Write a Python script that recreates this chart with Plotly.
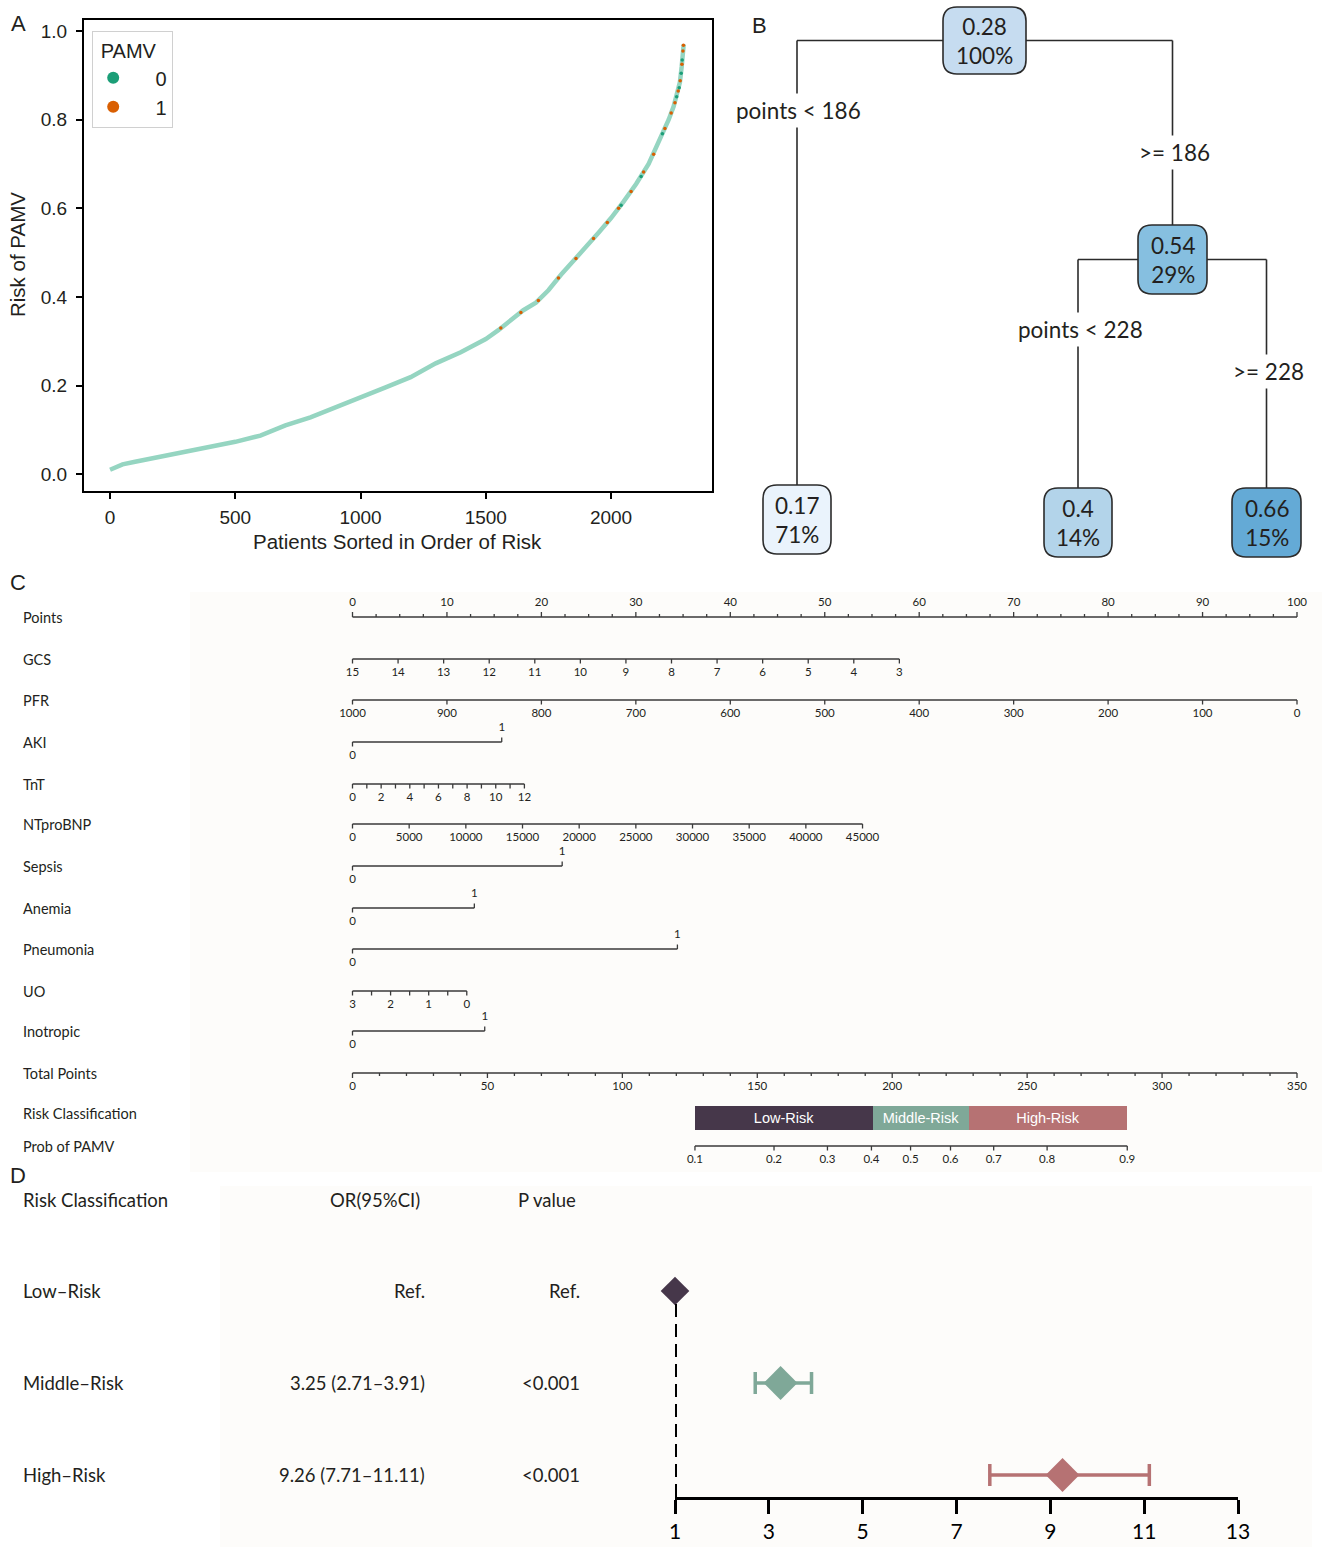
import plotly.graph_objects as go

W, H = 1322, 1547
ARIAL = "Liberation Sans, Arial, sans-serif"
SANS = "Lato, Open Sans, sans-serif"
INK = "#231f20"
NB = "\u00a0"


def px(p):
    return p / W


def py(p):
    return 1 - p / H


# ======================= DATA =======================
# ---- Panel A: sorted predicted risk ----
curve_idx = [0, 50, 100, 200, 300, 400, 500, 600, 700, 800, 900, 1000, 1100, 1200,
             1300, 1400, 1500, 1550, 1600, 1650, 1700, 1750, 1800, 1850, 1900, 1950,
             2000, 2050, 2100, 2150, 2200, 2230, 2250, 2265, 2275, 2282, 2286, 2290]
curve_risk = [0.010, 0.022, 0.028, 0.039, 0.050, 0.060, 0.073, 0.087, 0.110, 0.128,
              0.150, 0.173, 0.196, 0.219, 0.250, 0.275, 0.305, 0.325, 0.348, 0.370,
              0.387, 0.415, 0.450, 0.480, 0.513, 0.545, 0.578, 0.615, 0.655, 0.700,
              0.760, 0.800, 0.830, 0.860, 0.885, 0.920, 0.950, 0.970]
pamv0_idx = [2040, 2120, 2205, 2262, 2272, 2280, 2284]
pamv0_risk = [0.607, 0.672, 0.768, 0.852, 0.872, 0.905, 0.935]
pamv1_idx = [1560, 1640, 1710, 1790, 1860, 1930, 1985, 2030, 2080, 2130, 2170, 2215,
             2240, 2255, 2268, 2276, 2283, 2287, 2289]
pamv1_risk = [0.330, 0.365, 0.392, 0.443, 0.487, 0.532, 0.568, 0.600, 0.638, 0.682,
              0.722, 0.780, 0.815, 0.838, 0.865, 0.888, 0.925, 0.955, 0.968]
a_xticks = [0, 500, 1000, 1500, 2000]
a_yticks = [0.0, 0.2, 0.4, 0.6, 0.8, 1.0]

# ---- Panel B: decision tree ----
tree_value = ["0.28", "0.54", "0.17", "0.4", "0.66"]
tree_share = ["100%", "29%", "71%", "14%", "15%"]
tree_parent = [None, 0, 0, 1, 1]
tree_split = ["", ">= 186", "points < 186", "points < 228", ">= 228"]
tree_fill = ["#c6dcf0", "#86bfe0", "#eaf3fc", "#b3d4ea", "#64aad6"]

# ---- Panel C: nomogram (points each value earns) ----
points_labels = list(range(0, 101, 10))
gcs_labels = list(range(15, 2, -1))
gcs_points_span = [0, 57.9]
pfr_labels = list(range(1000, -1, -100))
pfr_points_span = [0, 100]
aki_points = [0, 15.8]
tnt_ticks = list(range(0, 13))
tnt_points_span = [0, 18.2]
ntprobnp_labels = list(range(0, 45001, 5000))
ntprobnp_points_span = [0, 54.0]
sepsis_points = [0, 22.2]
anemia_points = [0, 12.9]
pneumonia_points = [0, 34.4]
uo_ticks = [3, 2.5, 2, 1.5, 1, 0.5, 0]
uo_points_span = [0, 12.1]
inotropic_points = [0, 14.0]
total_ticks = list(range(0, 351, 10))
total_max = 350
prob_labels = [0.1, 0.2, 0.3, 0.4, 0.5, 0.6, 0.7, 0.8, 0.9]
prob_total_points = [126.9, 156.2, 176.0, 192.3, 206.8, 221.6, 237.6, 257.4, 287.1]
risk_names = ["Low-Risk", "Middle-Risk", "High-Risk"]
risk_edges_total = [127.1, 192.8, 228.6, 287.1]
risk_colors = ["#46374a", "#7fa898", "#b67273"]

# ---- Panel D: forest plot ----
forest_groups = ["Low\u2013Risk", "Middle\u2013Risk", "High\u2013Risk"]
or_est = [1.0, 3.25, 9.26]
or_lo = [1.0, 2.71, 7.71]
or_hi = [1.0, 3.91, 11.11]
or_text = ["Ref.", "3.25 (2.71\u20133.91)", "9.26 (7.71\u201311.11)"]
p_text = ["Ref.", "<0.001", "<0.001"]
forest_ticks = [1, 3, 5, 7, 9, 11, 13]

# ======================= FIGURE =======================
fig = go.Figure()
shapes = []
annotations = []


def ptext(text, x, y, size, family=SANS, xanchor="center", yanchor="middle", **kw):
    annotations.append(dict(text=text, xref="paper", yref="paper", x=px(x), y=py(y),
                            xanchor=xanchor, yanchor=yanchor, showarrow=False,
                            font=dict(family=family, size=size, color=INK), **kw))


# faint panel backgrounds
shapes.append(dict(type="rect", xref="paper", yref="paper", x0=px(190), x1=1,
                   y0=py(1172), y1=py(592), fillcolor="#fdfcfa", line_width=0, layer="below"))
shapes.append(dict(type="rect", xref="paper", yref="paper", x0=px(220), x1=px(1312),
                   y0=0, y1=py(1186), fillcolor="#fdfcfa", line_width=0, layer="below"))

# ---------- Panel A ----------
fig.add_trace(go.Scatter(x=curve_idx, y=curve_risk, mode="lines",
                         line=dict(color="#95d5c1", width=4.5), showlegend=False,
                         hoverinfo="skip", xaxis="x", yaxis="y"))
fig.add_trace(go.Scatter(x=pamv0_idx, y=pamv0_risk, mode="markers", name=NB * 4 + "0",
                         marker=dict(color="#1b9e77", size=3.5), xaxis="x", yaxis="y"))
fig.add_trace(go.Scatter(x=pamv1_idx, y=pamv1_risk, mode="markers", name=NB * 4 + "1",
                         marker=dict(color="#d95f02", size=3.5), xaxis="x", yaxis="y"))

ptext("Risk of PAMV", 18, 255, 20.5, ARIAL, textangle=-90)
ptext("Patients Sorted in Order of Risk", 397, 541, 20.5, ARIAL)

for letter, lx, ly in [("A", 18, 24), ("B", 760, 25), ("C", 18, 582), ("D", 18, 1175)]:
    ptext(letter, lx, ly, 22, ARIAL)

# ---------- Panel B ----------
tree_cx = [984.5, 1172.5, 797, 1078, 1266.5]
tree_cy = [40.5, 259.5, 519.5, 522.5, 522.5]
tree_w = [83, 69, 68, 68, 69]
tree_h = [67, 69, 69, 69, 69]


def rrect(x0, y0, x1, y1, r):
    return (f"M{x0 + r},{y0} L{x1 - r},{y0} Q{x1},{y0} {x1},{y0 + r} L{x1},{y1 - r} "
            f"Q{x1},{y1} {x1 - r},{y1} L{x0 + r},{y1} Q{x0},{y1} {x0},{y1 - r} "
            f"L{x0},{y0 + r} Q{x0},{y0} {x0 + r},{y0} Z")


for i, par in enumerate(tree_parent):
    if par is None:
        continue
    shapes.append(dict(type="line", xref="x2", yref="y2", x0=tree_cx[par], x1=tree_cx[i],
                       y0=tree_cy[par], y1=tree_cy[par], line=dict(color="#2b2b2b", width=1.6)))
    shapes.append(dict(type="line", xref="x2", yref="y2", x0=tree_cx[i], x1=tree_cx[i],
                       y0=tree_cy[par], y1=tree_cy[i] - tree_h[i] / 2,
                       line=dict(color="#2b2b2b", width=1.6)))
    is_left = tree_cx[i] < tree_cx[par]
    annotations.append(dict(text=tree_split[i], xref="x2", yref="y2", x=tree_cx[i] + 2,
                            y=tree_cy[par] + (70 if is_left else 112), showarrow=False,
                            xanchor="center", yanchor="middle", bgcolor="white", borderpad=3,
                            font=dict(family=SANS, size=22.5, color=INK)))
for i in range(len(tree_value)):
    x0, x1 = tree_cx[i] - tree_w[i] / 2, tree_cx[i] + tree_w[i] / 2
    y0, y1 = tree_cy[i] - tree_h[i] / 2, tree_cy[i] + tree_h[i] / 2
    shapes.append(dict(type="path", xref="x2", yref="y2", path=rrect(x0, y0, x1, y1, 14),
                       fillcolor=tree_fill[i], line=dict(color="#2b2b2b", width=1.6)))
    annotations.append(dict(text=f"{tree_value[i]}<br>{tree_share[i]}", xref="x2", yref="y2",
                            x=tree_cx[i], y=tree_cy[i], showarrow=False,
                            xanchor="center", yanchor="middle",
                            font=dict(family=SANS, size=22.5, color=INK)))

# ---------- Panel C : nomogram ----------
NOMO_X0, NOMO_PPP = 352.5, 9.445           # layout: pixel of 0 points / pixels per point
nomo_names = ["Points", "GCS", "PFR", "AKI", "TnT", "NTproBNP", "Sepsis", "Anemia",
              "Pneumonia", "UO", "Inotropic", "Total Points", "Risk Classification",
              "Prob of PAMV"]
nomo_y = [617, 659, 700, 742, 784, 824, 866, 908, 949, 991, 1031, 1073, 1113, 1146]
LAB_OFF = 14


def lin(values, v0, v1, span):
    return [span[0] + (v - v0) / (v1 - v0) * (span[1] - span[0]) for v in values]


def fmt(v):
    return str(int(v)) if float(v).is_integer() else str(v)


scales = []  # (row_y, positions, labels, sides, ticklens)
pts_all = [i * 2.5 for i in range(41)]
scales.append((nomo_y[0], pts_all,
               [fmt(p) if p in points_labels else "" for p in pts_all],
               ["up"] * len(pts_all), [5 if p in points_labels else 3 for p in pts_all]))
scales.append((nomo_y[1], lin(gcs_labels, 15, 3, gcs_points_span), [fmt(v) for v in gcs_labels],
               ["down"] * len(gcs_labels), [4.5] * len(gcs_labels)))
scales.append((nomo_y[2], lin(pfr_labels, 1000, 0, pfr_points_span), [fmt(v) for v in pfr_labels],
               ["down"] * len(pfr_labels), [4.5] * len(pfr_labels)))
for row, pts in [(3, aki_points), (6, sepsis_points), (7, anemia_points),
                 (8, pneumonia_points), (10, inotropic_points)]:
    scales.append((nomo_y[row], pts, ["0", "1"], ["down", "up"], [4.5, 4.5]))
scales.append((nomo_y[4], lin(tnt_ticks, 0, 12, tnt_points_span),
               [fmt(v) if v % 2 == 0 else "" for v in tnt_ticks],
               ["down"] * len(tnt_ticks), [4.5] * len(tnt_ticks)))
scales.append((nomo_y[5], lin(ntprobnp_labels, 0, 45000, ntprobnp_points_span),
               [fmt(v) for v in ntprobnp_labels], ["down"] * len(ntprobnp_labels),
               [4.5] * len(ntprobnp_labels)))
scales.append((nomo_y[9], lin(uo_ticks, 3, 0, uo_points_span),
               [fmt(v) if float(v).is_integer() else "" for v in uo_ticks],
               ["down"] * len(uo_ticks), [4.5] * len(uo_ticks)))
scales.append((nomo_y[11], [t * 100 / total_max for t in total_ticks],
               [fmt(t) if t % 50 == 0 else "" for t in total_ticks],
               ["down"] * len(total_ticks), [5 if t % 50 == 0 else 3 for t in total_ticks]))
scales.append((nomo_y[13], [t * 100 / total_max for t in prob_total_points],
               [fmt(p) for p in prob_labels], ["down"] * len(prob_labels),
               [4.5] * len(prob_labels)))

for ry, pos, labs, sides, tls in scales:
    lx = [min(pos), max(pos), None]
    ly = [ry, ry, None]
    tx, ty, tt = [], [], []
    for p, lab, sd, tl in zip(pos, labs, sides, tls):
        sgn = 1 if sd == "down" else -1
        lx += [p, p, None]
        ly += [ry, ry + sgn * tl, None]
        if lab:
            tx.append(p)
            ty.append(ry + sgn * LAB_OFF)
            tt.append(lab)
    fig.add_trace(go.Scatter(x=lx, y=ly, mode="lines", line=dict(color="#3a3a3a", width=1.3),
                             showlegend=False, hoverinfo="skip", xaxis="x3", yaxis="y3"))
    fig.add_trace(go.Scatter(x=tx, y=ty, mode="text", text=tt, cliponaxis=False,
                             textfont=dict(family=SANS, size=11.5, color=INK),
                             showlegend=False, hoverinfo="skip", xaxis="x3", yaxis="y3"))

risk_start = [risk_edges_total[i] * 100 / total_max for i in range(3)]
risk_width = [(risk_edges_total[i + 1] - risk_edges_total[i]) * 100 / total_max for i in range(3)]
fig.add_trace(go.Bar(orientation="h", y=[1118] * 3, x=risk_width, base=risk_start, width=24,
                     marker=dict(color=risk_colors, line_width=0), text=risk_names,
                     textposition="inside", insidetextanchor="middle", constraintext="none",
                     textfont=dict(family=ARIAL, size=14.5, color="white"),
                     showlegend=False, hoverinfo="skip", xaxis="x3", yaxis="y3"))

for name, ry in zip(nomo_names, nomo_y):
    annotations.append(dict(text=name, xref="paper", yref="y3", x=px(21), y=ry,
                            xanchor="left", yanchor="middle", showarrow=False,
                            font=dict(family=SANS, size=14.5, color=INK)))

# ---------- Panel D : forest plot ----------
row_val = [3, 2, 1]
for i in range(3):
    err = None
    if i > 0:
        err = dict(type="data", symmetric=False, array=[or_hi[i] - or_est[i]],
                   arrayminus=[or_est[i] - or_lo[i]], color=risk_colors[i],
                   thickness=3.5, width=11)
    fig.add_trace(go.Scatter(x=[or_est[i]], y=[row_val[i]], mode="markers", error_x=err,
                             marker=dict(symbol="diamond", size=22 if i == 0 else 26,
                                         color=risk_colors[i]),
                             cliponaxis=False, showlegend=False, hoverinfo="skip",
                             xaxis="x4", yaxis="y4"))
shapes.append(dict(type="line", xref="x4", yref="y4", x0=1, x1=1, y0=0.761, y1=row_val[0] - 0.12,
                   line=dict(color="black", width=4, dash="13px,7px")))

ptext("Risk Classification", 21, 1200, 18.5, xanchor="left")
ptext("OR(95%CI)", 375, 1200, 18.5)
ptext("P value", 547, 1200, 18.5)
for i in range(3):
    for txt, xx, xa in [(forest_groups[i], 21, "left"), (or_text[i], 427, "right"),
                        (p_text[i], 582, "right")]:
        annotations.append(dict(text=txt, xref="paper", yref="y4", x=px(xx), y=row_val[i],
                                xanchor=xa, yanchor="middle", showarrow=False,
                                font=dict(family=SANS, size=18.5, color=INK)))

# ======================= LAYOUT =======================
hidden = dict(visible=False, showgrid=False, zeroline=False, fixedrange=True, automargin=False)
fig.update_layout(
    width=W, height=H, margin=dict(l=0, r=0, t=0, b=0, pad=0, autoexpand=False),
    paper_bgcolor="white", plot_bgcolor="rgba(0,0,0,0)",
    xaxis=dict(domain=[px(84), px(712)], range=[-104, 2403], anchor="y", automargin=False,
               tickvals=a_xticks, ticks="outside", ticklen=6, tickwidth=1.5, tickcolor="black",
               showline=True, mirror=True, linecolor="black", linewidth=2, showgrid=False,
               zeroline=False, ticklabelstandoff=2,
               tickfont=dict(family=ARIAL, size=19, color=INK)),
    yaxis=dict(domain=[py(491), py(20)], range=[-0.038, 1.025], anchor="x", automargin=False,
               tickvals=a_yticks, tickformat=".1f", ticks="outside", ticklen=6, tickwidth=1.5,
               tickcolor="black", showline=True, mirror=True, linecolor="black", linewidth=2,
               showgrid=False, zeroline=False, ticklabelstandoff=5,
               tickfont=dict(family=ARIAL, size=19, color=INK)),
    xaxis2=dict(domain=[px(730), 1], range=[730, 1322], anchor="y2", **hidden),
    yaxis2=dict(domain=[py(570), 1], range=[570, 0], anchor="x2", **hidden),
    xaxis3=dict(domain=[0, 1], range=[(0 - NOMO_X0) / NOMO_PPP, (W - NOMO_X0) / NOMO_PPP],
                anchor="y3", **hidden),
    yaxis3=dict(domain=[py(1175), py(588)], range=[1175, 588], anchor="x3", **hidden),
    xaxis4=dict(domain=[px(675), px(1238)], range=[1, 13], anchor="y4", tickvals=forest_ticks,
                ticks="outside", ticklen=14, tickwidth=2.5, tickcolor="black", showline=True,
                linecolor="black", linewidth=2.5, showgrid=False, zeroline=False, automargin=False,
                ticklabelstandoff=0, tickfont=dict(family=SANS, size=21, color="black"),
                fixedrange=True),
    yaxis4=dict(domain=[py(1497), py(1240)], range=[0.761, 3.554], anchor="x4", **hidden),
    legend=dict(title=dict(text=NB + "PAMV", font=dict(family=ARIAL, size=20, color=INK)),
                x=px(92), y=py(31), xanchor="left", yanchor="top", bgcolor="white",
                bordercolor="#d0d0d0", borderwidth=1.2, itemsizing="constant",
                font=dict(family=ARIAL, size=20, color=INK)),
    shapes=shapes,
    annotations=annotations,
    bargap=0,
)

fig.write_html("out.html", config={"displayModeBar": False},
               post_script="document.body.style.margin='0';document.body.style.overflow='hidden';")
